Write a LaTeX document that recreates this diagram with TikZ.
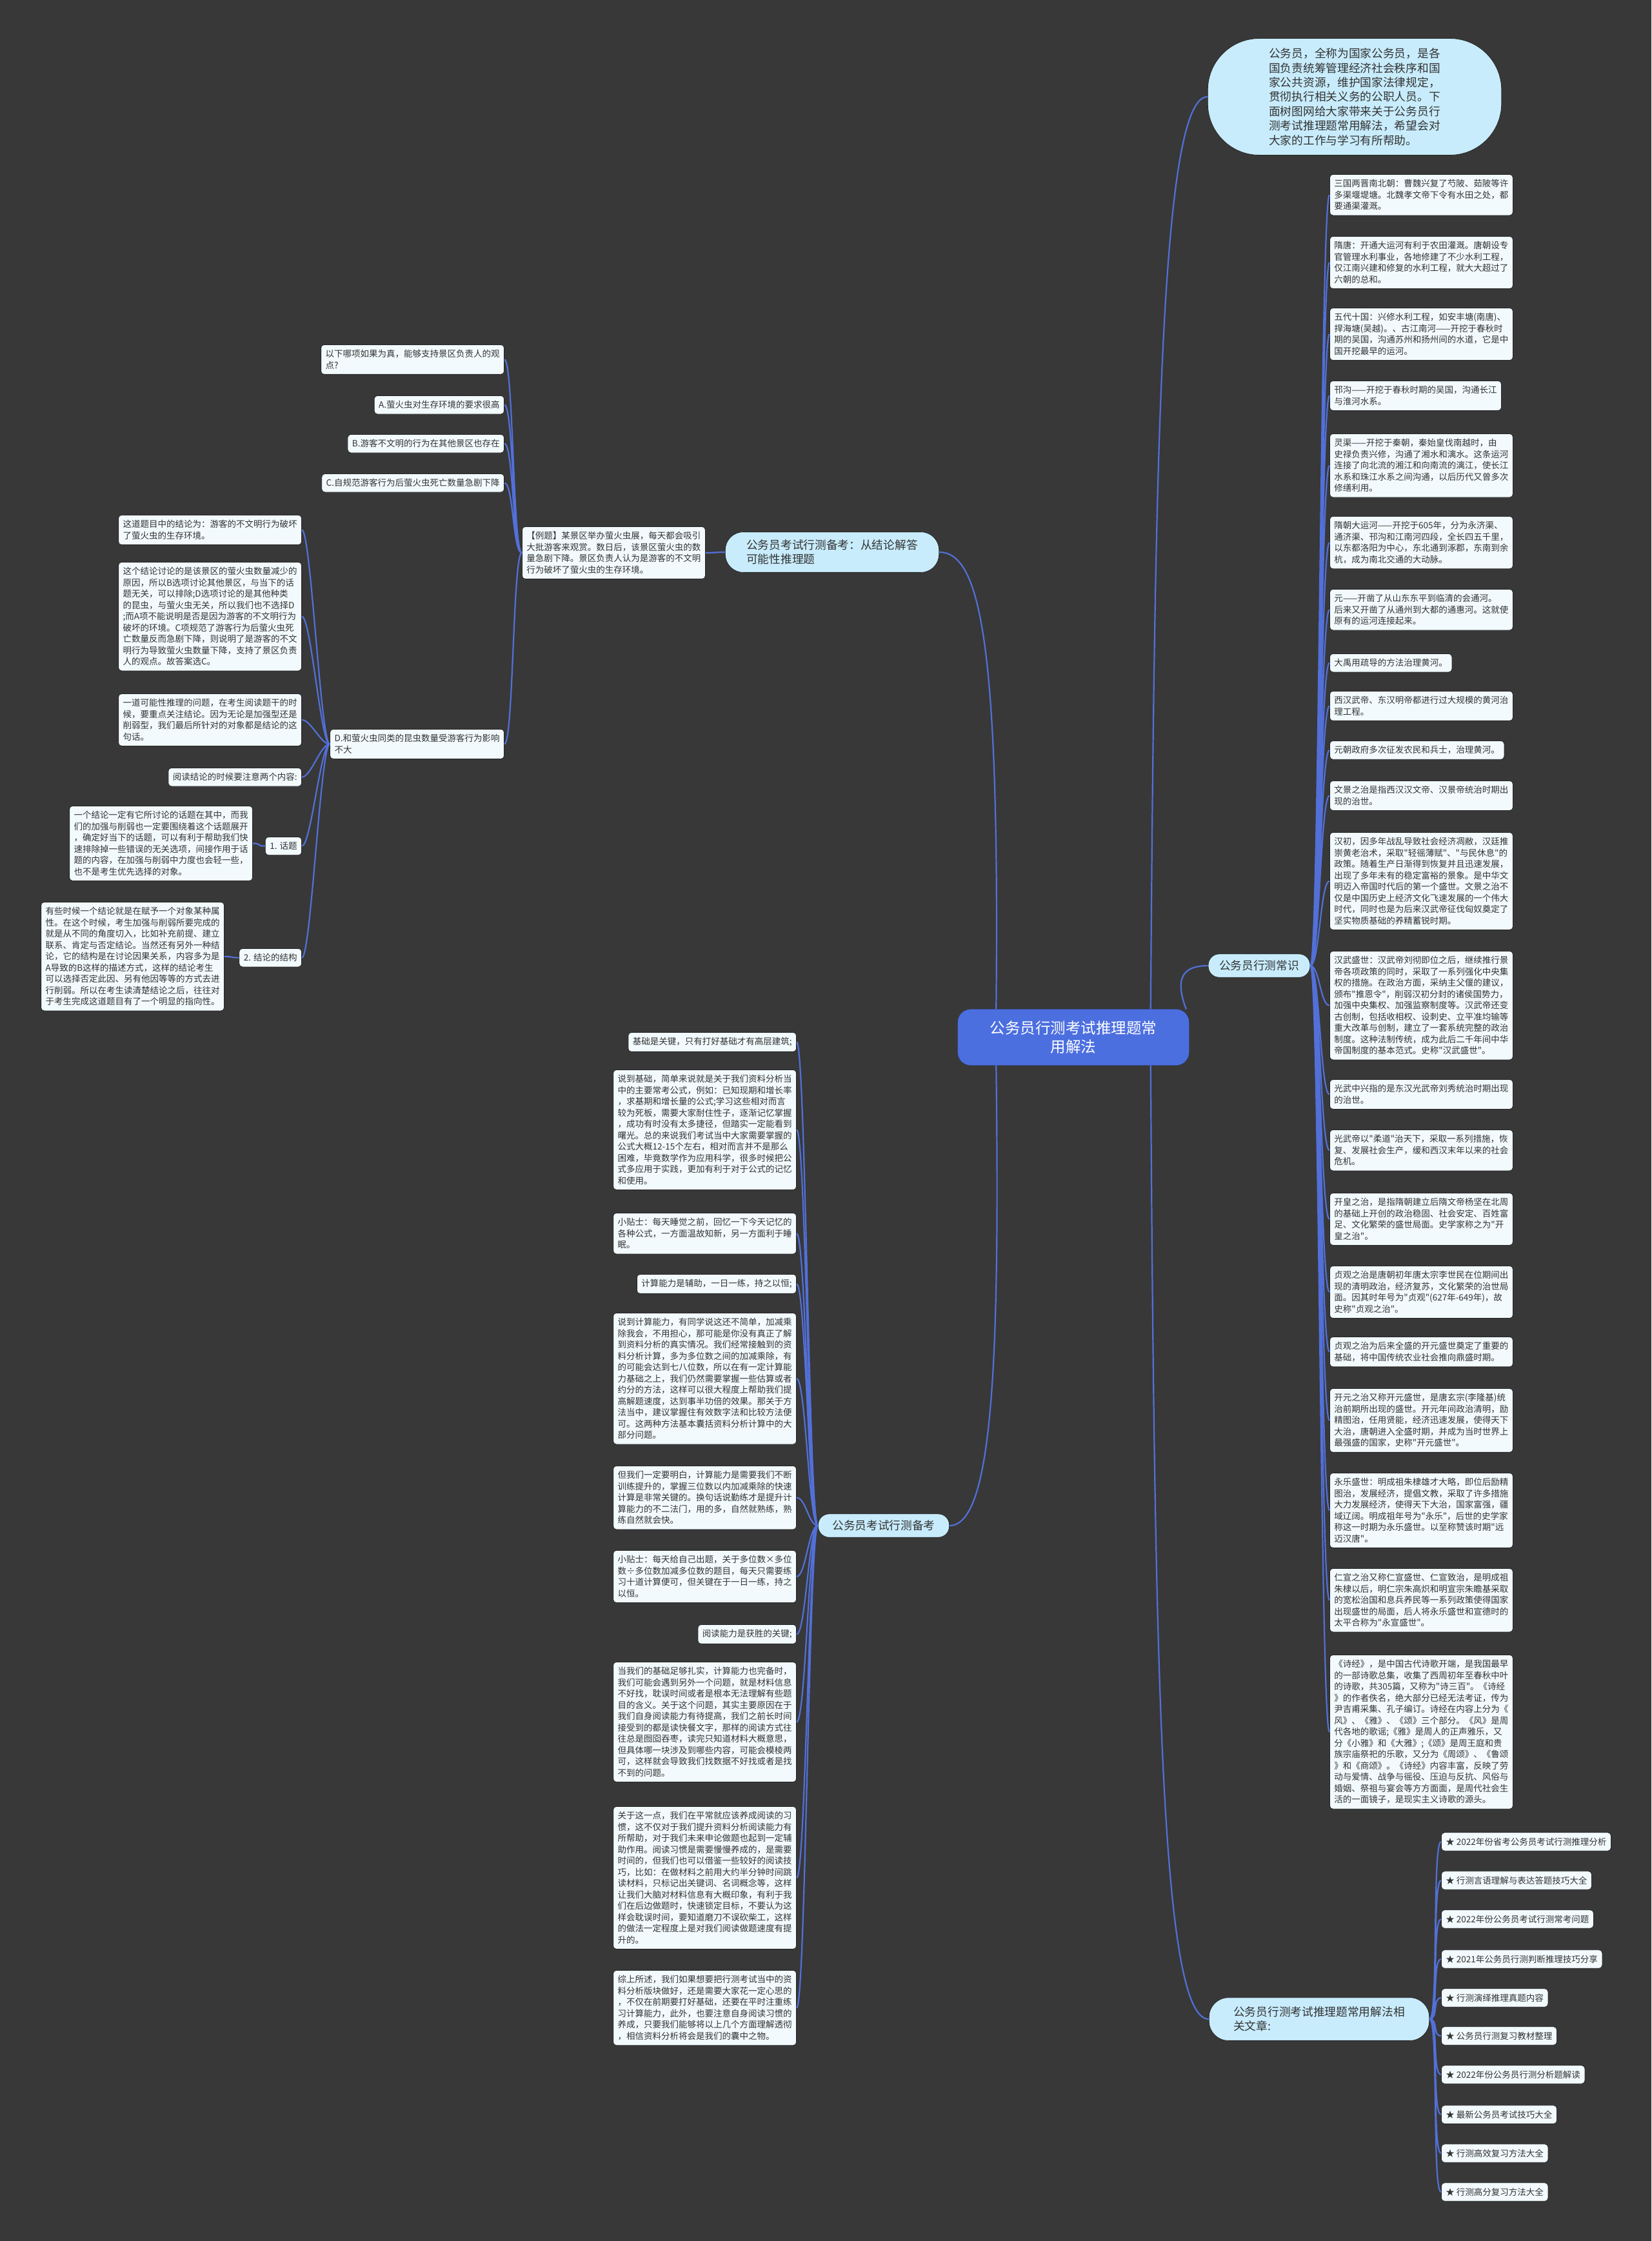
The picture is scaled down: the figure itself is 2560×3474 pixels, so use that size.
\documentclass[tikz,border=0pt]{standalone}
\usepackage{fontspec}
\usepackage{tikz}
\usepackage{xcolor}
\newfontfamily\zhfont{Noto Sans CJK SC}
\definecolor{bgdark}{HTML}{383838}
\definecolor{notebg}{HTML}{F2FAFD}
\definecolor{notebd}{HTML}{262626}
\definecolor{topicbg}{HTML}{C8ECFC}
\definecolor{mainblue}{HTML}{4C6FE0}
\definecolor{linkblue}{HTML}{5270D8}
\definecolor{ink}{HTML}{333333}
\tikzset{
  note/.style={draw=notebd,line width=0.8pt,fill=notebg,rounded corners=5pt,
    text=ink,align=left,inner xsep=7pt,inner ysep=8pt,
    font=\zhfont\fontsize{13.5}{17.5}\selectfont},
  topic/.style={draw=notebd,line width=0.8pt,fill=topicbg,text=ink,align=left,
    font=\zhfont\fontsize{17.7}{22.4}\selectfont},
  link/.style={draw=linkblue,line width=2.2pt},
  rbend/.style={to path={.. controls +(14,0) and +(-14,0) .. (\tikztotarget)}},
  lbend/.style={to path={.. controls +(-14,0) and +(14,0) .. (\tikztotarget)}},
}

\begin{document}
\begin{tikzpicture}[x=1pt,y=-1pt]
    \fill[bgdark] (0,0) rectangle (2560,3474);
    \useasboundingbox (0,0) rectangle (2560,3474);
    % centre and main branches
    \node[draw=mainblue!70!black,fill=mainblue,text=white,rounded corners=20pt,
      align=center,inner xsep=50pt,inner ysep=18pt,
      font=\zhfont\fontsize{23.5}{29}\selectfont] (main) at (1664,1608)
      {公务员行测考试推理题常\\用解法};
    \node[topic,rounded corners=80pt,inner xsep=95pt,inner ysep=15pt] (intro) at (2100,150)
      {公务员，全称为国家公务员，是各\\国负责统筹管理经济社会秩序和国\\家公共资源，维护国家法律规定，\\贯彻执行相关义务的公职人员。下\\面树图网给大家带来关于公务员行\\测考试推理题常用解法，希望会对\\大家的工作与学习有所帮助。};
    \node[topic,rounded corners=28pt,inner xsep=33pt,inner ysep=12pt] (conclusion) at (1290,856)
      {公务员考试行测备考：从结论解答\\可能性推理题};
    \node[topic,rounded corners=17pt,inner xsep=17pt,inner ysep=10pt] (commonsense) at (1952,1497)
      {公务员行测常识};
    \node[topic,rounded corners=17pt,inner xsep=22pt,inner ysep=10pt] (prep) at (1370,2365)
      {公务员考试行测备考};
    \node[topic,rounded corners=30pt,inner xsep=38pt,inner ysep=14pt] (related) at (2045,3130)
      {公务员行测考试推理题常用解法相\\关文章:};

    % example question
    \node[note,anchor=north west] (example) at (809,816)
      {【例题】某景区举办萤火虫展，每天都会吸引\\大批游客来观赏。数日后，该景区萤火虫的数\\量急剧下降。景区负责人认为是游客的不文明\\行为破坏了萤火虫的生存环境。};
    \node[note,anchor=north east] (question) at (782,534)
      {以下哪项如果为真，能够支持景区负责人的观\\点?};
    \node[note,anchor=north east] (optA) at (782,613) {A.萤火虫对生存环境的要求很高};
    \node[note,anchor=north east] (optB) at (782,673) {B.游客不文明的行为在其他景区也存在};
    \node[note,anchor=north east] (optC) at (782,734) {C.自规范游客行为后萤火虫死亡数量急剧下降};
    \node[note,anchor=north east] (optD) at (782,1130)
      {D.和萤火虫同类的昆虫数量受游客行为影响\\不大};
    \node[note,anchor=north east] (concl) at (468,798)
      {这道题目中的结论为：游客的不文明行为破坏\\了萤火虫的生存环境。};
    \node[note,anchor=north east] (reason) at (468,871)
      {这个结论讨论的是该景区的萤火虫数量减少的\\原因，所以B选项讨论其他景区，与当下的话\\题无关，可以排除;D选项讨论的是其他种类\\的昆虫，与萤火虫无关，所以我们也不选择D\\;而A项不能说明是否是因为游客的不文明行为\\破坏的环境。C项规范了游客行为后萤火虫死\\亡数量反而急剧下降，则说明了是游客的不文\\明行为导致萤火虫数量下降，支持了景区负责\\人的观点。故答案选C。};
    \node[note,anchor=north east] (focus) at (468,1075)
      {一道可能性推理的问题，在考生阅读题干的时\\候，要重点关注结论。因为无论是加强型还是\\削弱型，我们最后所针对的对象都是结论的这\\句话。};
    \node[note,anchor=north east] (twoparts) at (468,1190) {阅读结论的时候要注意两个内容:};
    \node[note,anchor=north east] (topicone) at (468,1297) {1. 话题};
    \node[note,anchor=north east] (topictxt) at (392,1249)
      {一个结论一定有它所讨论的话题在其中，而我\\们的加强与削弱也一定要围绕着这个话题展开\\，确定好当下的话题，可以有利于帮助我们快\\速排除掉一些错误的无关选项，间接作用于话\\题的内容，在加强与削弱中力度也会轻一些，\\也不是考生优先选择的对象。};
    \node[note,anchor=north east] (structure) at (468,1470) {2. 结论的结构};
    \node[note,anchor=north east] (structtxt) at (348,1398)
      {有些时候一个结论就是在赋予一个对象某种属\\性。在这个时候，考生加强与削弱所要完成的\\就是从不同的角度切入，比如补充前提、建立\\联系、肯定与否定结论。当然还有另外一种结\\论，它的结构是在讨论因果关系，内容多为是\\A导致的B这样的描述方式，这样的结论考生\\可以选择否定此因、另有他因等等的方式去进\\行削弱。所以在考生读清楚结论之后，往往对\\于考生完成这道题目有了一个明显的指向性。};

    % study tips
    \node[note,anchor=north east] (jichu) at (1235,1600) {基础是关键，只有打好基础才有高层建筑;};
    \node[note,anchor=north east] (jichutxt) at (1235,1658)
      {说到基础，简单来说就是关于我们资料分析当\\中的主要常考公式，例如：已知现期和增长率\\，求基期和增长量的公式;学习这些相对而言\\较为死板，需要大家耐住性子，逐渐记忆掌握\\，成功有时没有太多捷径，但踏实一定能看到\\曙光。总的来说我们考试当中大家需要掌握的\\公式大概12-15个左右，相对而言并不是那么\\困难，毕竟数学作为应用科学，很多时候把公\\式多应用于实践，更加有利于对于公式的记忆\\和使用。};
    \node[note,anchor=north east] (tipsleep) at (1235,1880)
      {小贴士：每天睡觉之前，回忆一下今天记忆的\\各种公式，一方面温故知新，另一方面利于睡\\眠。};
    \node[note,anchor=north east] (jisuan) at (1235,1975) {计算能力是辅助，一日一练，持之以恒;};
    \node[note,anchor=north east] (jisuantxt) at (1235,2035)
      {说到计算能力，有同学说这还不简单，加减乘\\除我会，不用担心，那可能是你没有真正了解\\到资料分析的真实情况。我们经常接触到的资\\料分析计算，多为多位数之间的加减乘除，有\\的可能会达到七八位数，所以在有一定计算能\\力基础之上，我们仍然需要掌握一些估算或者\\约分的方法，这样可以很大程度上帮助我们提\\高解题速度，达到事半功倍的效果。那关于方\\法当中，建议掌握住有效数字法和比较方法便\\可。这两种方法基本囊括资料分析计算中的大\\部分问题。};
    \node[note,anchor=north east] (jisuanlian) at (1235,2272)
      {但我们一定要明白，计算能力是需要我们不断\\训练提升的，掌握三位数以内加减乘除的快速\\计算是非常关键的。换句话说勤练才是提升计\\算能力的不二法门，用的多，自然就熟练，熟\\练自然就会快。};
    \node[note,anchor=north east] (tipcalc) at (1235,2403)
      {小贴士：每天给自己出题，关于多位数×多位\\数÷多位数加减多位数的题目，每天只需要练\\习十道计算便可，但关键在于一日一练，持之\\以恒。};
    \node[note,anchor=north east] (yuedu) at (1235,2518) {阅读能力是获胜的关键;};
    \node[note,anchor=north east] (yuedutxt) at (1235,2576)
      {当我们的基础足够扎实，计算能力也完备时，\\我们可能会遇到另外一个问题，就是材料信息\\不好找，耽误时间或者是根本无法理解有些题\\目的含义。关于这个问题，其实主要原因在于\\我们自身阅读能力有待提高，我们之前长时间\\接受到的都是读快餐文字，那样的阅读方式往\\往总是囫囵吞枣，读完只知道材料大概意思，\\但具体哪一块涉及到哪些内容，可能会模棱两\\可，这样就会导致我们找数据不好找或者是找\\不到的问题。};
    \node[note,anchor=north east] (yueduxg) at (1235,2800)
      {关于这一点，我们在平常就应该养成阅读的习\\惯，这不仅对于我们提升资料分析阅读能力有\\所帮助，对于我们未来申论做题也起到一定辅\\助作用。阅读习惯是需要慢慢养成的，是需要\\时间的，但我们也可以借鉴一些较好的阅读技\\巧，比如：在做材料之前用大约半分钟时间跳\\读材料，只标记出关键词、名词概念等，这样\\让我们大脑对材料信息有大概印象，有利于我\\们在后边做题时，快速锁定目标，不要认为这\\样会耽误时间，要知道磨刀不误砍柴工，这样\\的做法一定程度上是对我们阅读做题速度有提\\升的。};
    \node[note,anchor=north east] (zongshang) at (1235,3054)
      {综上所述，我们如果想要把行测考试当中的资\\料分析版块做好，还是需要大家花一定心思的\\，不仅在前期要打好基础，还要在平时注重练\\习计算能力，此外，也要注意自身阅读习惯的\\养成，只要我们能够将以上几个方面理解透彻\\，相信资料分析将会是我们的囊中之物。};

    % common knowledge
    \node[note,anchor=north west] (sanguo) at (2061,270)
      {三国两晋南北朝：曹魏兴复了芍陂、茹陂等许\\多渠堰堤塘。北魏孝文帝下令有水田之处，都\\要通渠灌溉。};
    \node[note,anchor=north west] (suitang) at (2061,366)
      {隋唐：开通大运河有利于农田灌溉。唐朝设专\\官管理水利事业，各地修建了不少水利工程，\\仅江南兴建和修复的水利工程，就大大超过了\\六朝的总和。};
    \node[note,anchor=north west] (wudai) at (2061,477)
      {五代十国：兴修水利工程，如安丰塘(南唐)、\\捍海塘(吴越)。、古江南河——开挖于春秋时\\期的吴国，沟通苏州和扬州间的水道，它是中\\国开挖最早的运河。};
    \node[note,anchor=north west] (hangou) at (2061,590)
      {邗沟——开挖于春秋时期的吴国，沟通长江\\与淮河水系。};
    \node[note,anchor=north west] (lingqu) at (2061,672)
      {灵渠——开挖于秦朝，秦始皇伐南越时，由\\史禄负责兴修，沟通了湘水和漓水。这条运河\\连接了向北流的湘江和向南流的漓江，使长江\\水系和珠江水系之间沟通，以后历代又曾多次\\修缮利用。};
    \node[note,anchor=north west] (yunhe) at (2061,800)
      {隋朝大运河——开挖于605年，分为永济渠、\\通济渠、邗沟和江南河四段，全长四五千里，\\以东都洛阳为中心，东北通到涿郡，东南到余\\杭，成为南北交通的大动脉。};
    \node[note,anchor=north west] (yuanhe) at (2061,913)
      {元——开凿了从山东东平到临清的会通河。\\后来又开凿了从通州到大都的通惠河。这就使\\原有的运河连接起来。};
    \node[note,anchor=north west] (dayu) at (2061,1013) {大禹用疏导的方法治理黄河。};
    \node[note,anchor=north west] (xihan) at (2061,1071)
      {西汉武帝、东汉明帝都进行过大规模的黄河治\\理工程。};
    \node[note,anchor=north west] (yuanchao) at (2061,1148) {元朝政府多次征发农民和兵士，治理黄河。};
    \node[note,anchor=north west] (wenjing) at (2061,1210)
      {文景之治是指西汉汉文帝、汉景帝统治时期出\\现的治世。};
    \node[note,anchor=north west] (hanchu) at (2061,1290)
      {汉初，因多年战乱导致社会经济凋敝，汉廷推\\崇黄老治术，采取"轻徭薄赋"、"与民休息"的\\政策。随着生产日渐得到恢复并且迅速发展，\\出现了多年未有的稳定富裕的景象。是中华文\\明迈入帝国时代后的第一个盛世。文景之治不\\仅是中国历史上经济文化飞速发展的一个伟大\\时代，同时也是为后来汉武帝征伐匈奴奠定了\\坚实物质基础的养精蓄锐时期。};
    \node[note,anchor=north west] (hanwu) at (2061,1474)
      {汉武盛世：汉武帝刘彻即位之后，继续推行景\\帝各项政策的同时，采取了一系列强化中央集\\权的措施。在政治方面，采纳主父偃的建议，\\颁布"推恩令"，削弱汉初分封的诸侯国势力，\\加强中央集权、加强监察制度等。汉武帝还变\\古创制，包括收相权、设刺史、立平准均输等\\重大改革与创制，建立了一套系统完整的政治\\制度。这种法制传统，成为此后二千年间中华\\帝国制度的基本范式。史称"汉武盛世"。};
    \node[note,anchor=north west] (guangwu) at (2061,1673)
      {光武中兴指的是东汉光武帝刘秀统治时期出现\\的治世。};
    \node[note,anchor=north west] (roudao) at (2061,1751)
      {光武帝以"柔道"治天下，采取一系列措施，恢\\复、发展社会生产，缓和西汉末年以来的社会\\危机。};
    \node[note,anchor=north west] (kaihuang) at (2061,1849)
      {开皇之治，是指隋朝建立后隋文帝杨坚在北周\\的基础上开创的政治稳固、社会安定、百姓富\\足、文化繁荣的盛世局面。史学家称之为"开\\皇之治"。};
    \node[note,anchor=north west] (zhenguan) at (2061,1962)
      {贞观之治是唐朝初年唐太宗李世民在位期间出\\现的清明政治，经济复苏，文化繁荣的治世局\\面。因其时年号为"贞观"(627年-649年)，故\\史称"贞观之治"。};
    \node[note,anchor=north west] (zhenguanb) at (2061,2072)
      {贞观之治为后来全盛的开元盛世奠定了重要的\\基础，将中国传统农业社会推向鼎盛时期。};
    \node[note,anchor=north west] (kaiyuan) at (2061,2152)
      {开元之治又称开元盛世，是唐玄宗(李隆基)统\\治前期所出现的盛世。开元年间政治清明，励\\精图治，任用贤能，经济迅速发展，使得天下\\大治，唐朝进入全盛时期，并成为当时世界上\\最强盛的国家，史称"开元盛世"。};
    \node[note,anchor=north west] (yongle) at (2061,2283)
      {永乐盛世：明成祖朱棣雄才大略，即位后励精\\图治，发展经济，提倡文教，采取了许多措施\\大力发展经济，使得天下大治，国家富强，疆\\域辽阔。明成祖年号为"永乐"，后世的史学家\\称这一时期为永乐盛世。以至称赞该时期"远\\迈汉唐"。};
    \node[note,anchor=north west] (renxuan) at (2061,2431)
      {仁宣之治又称仁宣盛世、仁宣致治，是明成祖\\朱棣以后，明仁宗朱高炽和明宣宗朱瞻基采取\\的宽松治国和息兵养民等一系列政策使得国家\\出现盛世的局面，后人将永乐盛世和宣德时的\\太平合称为"永宣盛世"。};
    \node[note,anchor=north west] (shijing) at (2061,2565)
      {《诗经》，是中国古代诗歌开端，是我国最早\\的一部诗歌总集，收集了西周初年至春秋中叶\\的诗歌，共305篇，又称为"诗三百"。《诗经\\》的作者佚名，绝大部分已经无法考证，传为\\尹吉甫采集、孔子编订。诗经在内容上分为《\\风》、《雅》、《颂》三个部分。《风》是周\\代各地的歌谣;《雅》是周人的正声雅乐，又\\分《小雅》和《大雅》;《颂》是周王庭和贵\\族宗庙祭祀的乐歌，又分为《周颂》、《鲁颂\\》和《商颂》。《诗经》内容丰富，反映了劳\\动与爱情、战争与徭役、压迫与反抗、风俗与\\婚姻、祭祖与宴会等方方面面，是周代社会生\\活的一面镜子，是现实主义诗歌的源头。};

    % related articles
    \node[note,anchor=west] (rel1) at (2234,2855) {★ 2022年份省考公务员考试行测推理分析};
    \node[note,anchor=west] (rel2) at (2234,2915) {★ 行测言语理解与表达答题技巧大全};
    \node[note,anchor=west] (rel3) at (2234,2975) {★ 2022年份公务员考试行测常考问题};
    \node[note,anchor=west] (rel4) at (2234,3037) {★ 2021年公务员行测判断推理技巧分享};
    \node[note,anchor=west] (rel5) at (2234,3097) {★ 行测演绎推理真题内容};
    \node[note,anchor=west] (rel6) at (2234,3156) {★ 公务员行测复习教材整理};
    \node[note,anchor=west] (rel7) at (2234,3216) {★ 2022年份公务员行测分析题解读};
    \node[note,anchor=west] (rel8) at (2234,3278) {★ 最新公务员考试技巧大全};
    \node[note,anchor=west] (rel9) at (2234,3338) {★ 行测高效复习方法大全};
    \node[note,anchor=west] (rel10) at (2234,3398) {★ 行测高分复习方法大全};

    % connectors
    \draw[link] (main.20) .. controls (1790,700) and (1800,150) .. (intro.west);
    \draw[link] (main.14) .. controls (1818,1510) and (1840,1497) .. (commonsense.west);
    \draw[link] (main.-20) .. controls (1790,2600) and (1800,3130) .. (related.west);
    \draw[link] (main.160) .. controls (1550,1000) and (1520,856) .. (conclusion.east);
    \draw[link] (main.-160) .. controls (1550,2100) and (1540,2365) .. (prep.east);
    \draw[link] (conclusion.west) to[lbend] (example.east);
    \draw[link] (example.west) to[lbend] (question.east) (example.west) to[lbend] (optA.east)
      (example.west) to[lbend] (optB.east) (example.west) to[lbend] (optC.east)
      (example.west) to[lbend] (optD.east);
    \draw[link] (optD.west) to[lbend] (concl.east) (optD.west) to[lbend] (reason.east)
      (optD.west) to[lbend] (focus.east) (optD.west) to[lbend] (twoparts.east)
      (optD.west) to[lbend] (topicone.east) (optD.west) to[lbend] (structure.east);
    \draw[link] (topicone.west) to[lbend] (topictxt.east);
    \draw[link] (structure.west) to[lbend] (structtxt.east);
    \draw[link] (prep.west) to[lbend] (jichu.east) (prep.west) to[lbend] (jichutxt.east)
      (prep.west) to[lbend] (tipsleep.east) (prep.west) to[lbend] (jisuan.east)
      (prep.west) to[lbend] (jisuantxt.east) (prep.west) to[lbend] (jisuanlian.east)
      (prep.west) to[lbend] (tipcalc.east) (prep.west) to[lbend] (yuedu.east)
      (prep.west) to[lbend] (yuedutxt.east) (prep.west) to[lbend] (yueduxg.east)
      (prep.west) to[lbend] (zongshang.east);
    \draw[link] (commonsense.east) to[rbend] (sanguo.west) (commonsense.east) to[rbend] (suitang.west)
      (commonsense.east) to[rbend] (wudai.west) (commonsense.east) to[rbend] (hangou.west)
      (commonsense.east) to[rbend] (lingqu.west) (commonsense.east) to[rbend] (yunhe.west)
      (commonsense.east) to[rbend] (yuanhe.west) (commonsense.east) to[rbend] (dayu.west)
      (commonsense.east) to[rbend] (xihan.west) (commonsense.east) to[rbend] (yuanchao.west)
      (commonsense.east) to[rbend] (wenjing.west) (commonsense.east) to[rbend] (hanchu.west)
      (commonsense.east) to[rbend] (hanwu.west) (commonsense.east) to[rbend] (guangwu.west)
      (commonsense.east) to[rbend] (roudao.west) (commonsense.east) to[rbend] (kaihuang.west)
      (commonsense.east) to[rbend] (zhenguan.west) (commonsense.east) to[rbend] (zhenguanb.west)
      (commonsense.east) to[rbend] (kaiyuan.west) (commonsense.east) to[rbend] (yongle.west)
      (commonsense.east) to[rbend] (renxuan.west) (commonsense.east) to[rbend] (shijing.west);
    \draw[link] (related.east) to[rbend] (rel1.west) (related.east) to[rbend] (rel2.west)
      (related.east) to[rbend] (rel3.west) (related.east) to[rbend] (rel4.west)
      (related.east) to[rbend] (rel5.west) (related.east) to[rbend] (rel6.west)
      (related.east) to[rbend] (rel7.west) (related.east) to[rbend] (rel8.west)
      (related.east) to[rbend] (rel9.west) (related.east) to[rbend] (rel10.west);
  \end{tikzpicture}
\end{document}
